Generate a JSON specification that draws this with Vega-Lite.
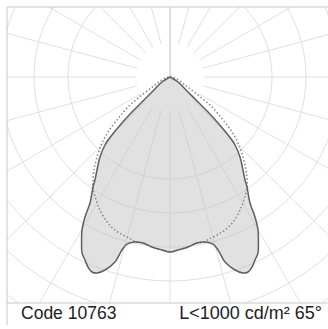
{
  "$schema": "https://vega.github.io/schema/vega-lite/v6.json",
  "width": 321,
  "height": 296,
  "autosize": {"type": "none"},
  "padding": {"left": 7, "top": 7, "right": 0, "bottom": 26},
  "background": "#ffffff",
  "config": {"view": {"stroke": null}, "axis": {"disable": true}},
  "datasets": {
    "solid": [
      {"i": 0, "x": 0, "y": 0},
      {"i": 1, "x": 0.235, "y": -0.147},
      {"i": 2, "x": 0.529, "y": -0.441},
      {"i": 3, "x": 0.824, "y": -0.735},
      {"i": 4, "x": 1.118, "y": -1.029},
      {"i": 5, "x": 1.412, "y": -1.353},
      {"i": 6, "x": 1.706, "y": -1.706},
      {"i": 7, "x": 1.912, "y": -2.0},
      {"i": 8, "x": 2.059, "y": -2.353},
      {"i": 9, "x": 2.147, "y": -2.735},
      {"i": 10, "x": 2.206, "y": -3.029},
      {"i": 11, "x": 2.265, "y": -3.235},
      {"i": 12, "x": 2.353, "y": -3.706},
      {"i": 13, "x": 2.5, "y": -4.118},
      {"i": 14, "x": 2.588, "y": -4.5},
      {"i": 15, "x": 2.6, "y": -4.882},
      {"i": 16, "x": 2.588, "y": -5.176},
      {"i": 17, "x": 2.5, "y": -5.382},
      {"i": 18, "x": 2.412, "y": -5.588},
      {"i": 19, "x": 2.294, "y": -5.735},
      {"i": 20, "x": 2.147, "y": -5.765},
      {"i": 21, "x": 1.912, "y": -5.676},
      {"i": 22, "x": 1.618, "y": -5.441},
      {"i": 23, "x": 1.412, "y": -5.088},
      {"i": 24, "x": 1.265, "y": -4.912},
      {"i": 25, "x": 1.029, "y": -4.853},
      {"i": 26, "x": 0.794, "y": -4.882},
      {"i": 27, "x": 0.529, "y": -5.0},
      {"i": 28, "x": 0.235, "y": -5.088},
      {"i": 29, "x": 0, "y": -5.147},
      {"i": 30, "x": -0.235, "y": -5.088},
      {"i": 31, "x": -0.529, "y": -5.0},
      {"i": 32, "x": -0.794, "y": -4.882},
      {"i": 33, "x": -1.029, "y": -4.853},
      {"i": 34, "x": -1.265, "y": -4.912},
      {"i": 35, "x": -1.412, "y": -5.088},
      {"i": 36, "x": -1.618, "y": -5.441},
      {"i": 37, "x": -1.912, "y": -5.676},
      {"i": 38, "x": -2.147, "y": -5.765},
      {"i": 39, "x": -2.294, "y": -5.735},
      {"i": 40, "x": -2.412, "y": -5.588},
      {"i": 41, "x": -2.5, "y": -5.382},
      {"i": 42, "x": -2.588, "y": -5.176},
      {"i": 43, "x": -2.6, "y": -4.882},
      {"i": 44, "x": -2.588, "y": -4.5},
      {"i": 45, "x": -2.5, "y": -4.118},
      {"i": 46, "x": -2.353, "y": -3.706},
      {"i": 47, "x": -2.265, "y": -3.235},
      {"i": 48, "x": -2.206, "y": -3.029},
      {"i": 49, "x": -2.147, "y": -2.735},
      {"i": 50, "x": -2.059, "y": -2.353},
      {"i": 51, "x": -1.912, "y": -2.0},
      {"i": 52, "x": -1.706, "y": -1.706},
      {"i": 53, "x": -1.412, "y": -1.353},
      {"i": 54, "x": -1.118, "y": -1.029},
      {"i": 55, "x": -0.824, "y": -0.735},
      {"i": 56, "x": -0.529, "y": -0.441},
      {"i": 57, "x": -0.235, "y": -0.147},
      {"i": 58, "x": 0, "y": 0}
    ],
    "dotted": [
      {"i": 0, "x": 0, "y": 0},
      {"i": 1, "x": 0.147, "y": -0.029},
      {"i": 2, "x": 0.441, "y": -0.235},
      {"i": 3, "x": 0.824, "y": -0.529},
      {"i": 4, "x": 1.235, "y": -0.882},
      {"i": 5, "x": 1.559, "y": -1.265},
      {"i": 6, "x": 1.824, "y": -1.618},
      {"i": 7, "x": 2.0, "y": -1.941},
      {"i": 8, "x": 2.147, "y": -2.353},
      {"i": 9, "x": 2.235, "y": -2.735},
      {"i": 10, "x": 2.265, "y": -3.029},
      {"i": 11, "x": 2.265, "y": -3.3},
      {"i": 12, "x": 2.206, "y": -3.5},
      {"i": 13, "x": 2.088, "y": -3.853},
      {"i": 14, "x": 1.853, "y": -4.265},
      {"i": 15, "x": 1.618, "y": -4.5},
      {"i": 16, "x": 1.382, "y": -4.647},
      {"i": 17, "x": 1.147, "y": -4.765},
      {"i": 18, "x": 1.0, "y": -4.853},
      {"i": 19, "x": 0.794, "y": -4.882},
      {"i": 20, "x": 0.529, "y": -5.0},
      {"i": 21, "x": 0.235, "y": -5.088},
      {"i": 22, "x": 0, "y": -5.147},
      {"i": 23, "x": -0.235, "y": -5.088},
      {"i": 24, "x": -0.529, "y": -5.0},
      {"i": 25, "x": -0.794, "y": -4.882},
      {"i": 26, "x": -1.0, "y": -4.853},
      {"i": 27, "x": -1.147, "y": -4.765},
      {"i": 28, "x": -1.382, "y": -4.647},
      {"i": 29, "x": -1.618, "y": -4.5},
      {"i": 30, "x": -1.853, "y": -4.265},
      {"i": 31, "x": -2.088, "y": -3.853},
      {"i": 32, "x": -2.206, "y": -3.5},
      {"i": 33, "x": -2.265, "y": -3.3},
      {"i": 34, "x": -2.265, "y": -3.029},
      {"i": 35, "x": -2.235, "y": -2.735},
      {"i": 36, "x": -2.147, "y": -2.353},
      {"i": 37, "x": -2.0, "y": -1.941},
      {"i": 38, "x": -1.824, "y": -1.618},
      {"i": 39, "x": -1.559, "y": -1.265},
      {"i": 40, "x": -1.235, "y": -0.882},
      {"i": 41, "x": -0.824, "y": -0.529},
      {"i": 42, "x": -0.441, "y": -0.235},
      {"i": 43, "x": -0.147, "y": -0.029},
      {"i": 44, "x": 0, "y": 0}
    ],
    "rings": [{"r": 1}, {"r": 2}, {"r": 3}, {"r": 4}, {"r": 5}, {"r": 6}, {"r": 7}, {"r": 8}],
    "spokes": [
      {"x": 0, "y": 1, "x2": 0, "y2": 10},
      {"x": 0.2588, "y": 0.9659, "x2": 2.588, "y2": 9.659},
      {"x": 0.5, "y": 0.866, "x2": 5.0, "y2": 8.66},
      {"x": 0.7071, "y": 0.7071, "x2": 7.071, "y2": 7.071},
      {"x": 0.866, "y": 0.5, "x2": 8.66, "y2": 5.0},
      {"x": 0.9659, "y": 0.2588, "x2": 9.659, "y2": 2.588},
      {"x": 1, "y": 0, "x2": 10, "y2": 0},
      {"x": 0.9659, "y": -0.2588, "x2": 9.659, "y2": -2.588},
      {"x": 0.866, "y": -0.5, "x2": 8.66, "y2": -5.0},
      {"x": 0.7071, "y": -0.7071, "x2": 7.071, "y2": -7.071},
      {"x": 0.5, "y": -0.866, "x2": 5.0, "y2": -8.66},
      {"x": 0.2588, "y": -0.9659, "x2": 2.588, "y2": -9.659},
      {"x": 0, "y": -1, "x2": 0, "y2": -10},
      {"x": -0.2588, "y": -0.9659, "x2": -2.588, "y2": -9.659},
      {"x": -0.5, "y": -0.866, "x2": -5.0, "y2": -8.66},
      {"x": -0.7071, "y": -0.7071, "x2": -7.071, "y2": -7.071},
      {"x": -0.866, "y": -0.5, "x2": -8.66, "y2": -5.0},
      {"x": -0.9659, "y": -0.2588, "x2": -9.659, "y2": -2.588},
      {"x": -1, "y": 0, "x2": -10, "y2": 0},
      {"x": -0.9659, "y": 0.2588, "x2": -9.659, "y2": 2.588},
      {"x": -0.866, "y": 0.5, "x2": -8.66, "y2": 5.0},
      {"x": -0.7071, "y": 0.7071, "x2": -7.071, "y2": 7.071},
      {"x": -0.5, "y": 0.866, "x2": -5.0, "y2": 8.66},
      {"x": -0.2588, "y": 0.9659, "x2": -2.588, "y2": 9.659}
    ],
    "labels": [
      {"t": "Code 10763", "x": -4.382, "y": -7.118, "side": "left"},
      {"t": "L<1000 cd/m² 65°", "x": 4.471, "y": -7.118, "side": "right"}
    ],
    "one": [{"k": 1}]
  },
  "layer": [
    {
      "data": {"name": "spokes"},
      "mark": {"type": "rule", "stroke": "#e0e0e0", "strokeWidth": 1, "clip": true},
      "encoding": {
        "x": {"field": "x", "type": "quantitative", "scale": {"domain": [-4.794, 4.647], "nice": false, "zero": false}},
        "y": {"field": "y", "type": "quantitative", "scale": {"domain": [-6.647, 2.059], "nice": false, "zero": false}},
        "x2": {"field": "x2"},
        "y2": {"field": "y2"}
      }
    },
    {
      "data": {"name": "rings"},
      "mark": {"type": "arc", "filled": false, "stroke": "#e0e0e0", "strokeWidth": 1, "theta": 0, "theta2": 6.28318, "clip": true},
      "encoding": {
        "x": {"datum": 0, "type": "quantitative"},
        "y": {"datum": 0, "type": "quantitative"},
        "radius": {"field": "r", "type": "quantitative", "stack": null, "scale": {"type": "linear", "domain": [0, 10], "range": [0, 340], "zero": true}}
      }
    },
    {
      "data": {"name": "solid"},
      "mark": {"type": "line", "fill": "#c4c4c4", "fillOpacity": 0.5, "strokeWidth": 0, "interpolate": "catmull-rom", "clip": true},
      "encoding": {
        "x": {"field": "x", "type": "quantitative"},
        "y": {"field": "y", "type": "quantitative"},
        "order": {"field": "i", "type": "quantitative"}
      }
    },
    {
      "data": {"name": "dotted"},
      "mark": {"type": "line", "stroke": "#8a8a8a", "strokeWidth": 1.6, "strokeDash": [1.5, 2.2], "interpolate": "catmull-rom", "clip": true},
      "encoding": {
        "x": {"field": "x", "type": "quantitative"},
        "y": {"field": "y", "type": "quantitative"},
        "order": {"field": "i", "type": "quantitative"}
      }
    },
    {
      "data": {"name": "solid"},
      "mark": {"type": "line", "stroke": "#5f5f5f", "strokeWidth": 1.5, "interpolate": "catmull-rom", "clip": true},
      "encoding": {
        "x": {"field": "x", "type": "quantitative"},
        "y": {"field": "y", "type": "quantitative"},
        "order": {"field": "i", "type": "quantitative"}
      }
    },
    {
      "data": {"name": "one"},
      "mark": {"type": "rule", "stroke": "#c8c8c8", "strokeWidth": 1},
      "encoding": {
        "x": {"datum": -4.794, "type": "quantitative"},
        "y": {"datum": 2.059, "type": "quantitative"},
        "y2": {"datum": -7.294}
      }
    },
    {
      "data": {"name": "one"},
      "mark": {"type": "rule", "stroke": "#c8c8c8", "strokeWidth": 1},
      "encoding": {
        "x": {"datum": -4.794, "type": "quantitative"},
        "x2": {"datum": 4.647},
        "y": {"datum": 2.059, "type": "quantitative"}
      }
    },
    {
      "data": {"name": "one"},
      "mark": {"type": "rule", "stroke": "#c8c8c8", "strokeWidth": 1},
      "encoding": {
        "x": {"datum": -4.794, "type": "quantitative"},
        "x2": {"datum": 4.647},
        "y": {"datum": -6.647, "type": "quantitative"}
      }
    },
    {
      "data": {"name": "labels"},
      "transform": [{"filter": "datum.side == 'left'"}],
      "mark": {"type": "text", "align": "left", "baseline": "alphabetic", "font": "Liberation Sans", "fontSize": 17.5, "color": "#222222"},
      "encoding": {
        "x": {"field": "x", "type": "quantitative"},
        "y": {"field": "y", "type": "quantitative"},
        "text": {"field": "t"}
      }
    },
    {
      "data": {"name": "labels"},
      "transform": [{"filter": "datum.side == 'right'"}],
      "mark": {"type": "text", "align": "right", "baseline": "alphabetic", "font": "Liberation Sans", "fontSize": 18, "color": "#222222"},
      "encoding": {
        "x": {"field": "x", "type": "quantitative"},
        "y": {"field": "y", "type": "quantitative"},
        "text": {"field": "t"}
      }
    }
  ]
}
